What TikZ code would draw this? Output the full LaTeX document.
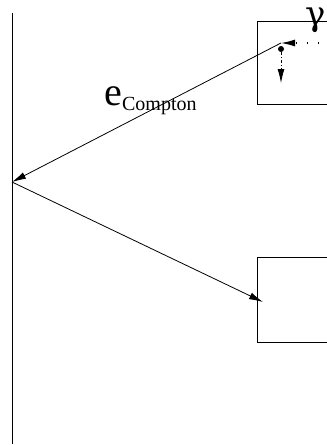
\documentclass[tikz,border=0pt]{standalone}
\usepackage{fontspec}
\setmainfont{Liberation Serif}
\newfontfamily\greekfont{DejaVu Serif}
\usetikzlibrary{arrows.meta,positioning}

\begin{document}
\begin{tikzpicture}[
	x=1pt, y=-1pt,
	line width=0.8pt,
	tip/.style={-{Latex[length=14pt,width=7pt]}},
	detbox/.style={draw, line width=0.8pt},
	vertex/.style={circle, fill, inner sep=0pt, minimum size=6pt}
]
\useasboundingbox (0,0) rectangle (327,445);

% detector plane
\coordinate (planetop) at (12,13);
\coordinate (planebot) at (12,444);
\draw (planetop) -- (planebot);

% scatterer and absorber (open to the right)
\draw[detbox] (330,21) -- (257,21) -- (257,104) -- (330,104);
\draw[detbox] (330,257) -- (257,257) -- (257,342) -- (330,342);

\node[vertex] (scatter) at (281,49) {};
\coordinate (entry) at (281,43);
\coordinate (gin) at (330,43);
\coordinate (hit) at (12,182);
\coordinate (absorb) at (263,302);
\coordinate (gdown) at (281,83);

\node[anchor=base east, inner sep=0pt] (gamma) at (326,25)
	{\greekfont\fontsize{34}{34}\selectfont γ};
\node[anchor=base west, inner sep=0pt] (elabel) at (104,105)
	{\fontsize{40}{40}\selectfont e\raisebox{-5pt}{\fontsize{20}{20}\selectfont Compton}};

\draw[tip, line width=1.2pt, dash pattern=on 1.5pt off 9.5pt] (gin) -- (entry);
\draw[tip, dash pattern=on 3pt off 2pt on 1pt off 2pt] (scatter) -- (gdown);
\draw[tip] (entry) -- (hit);
\draw[tip] (hit) -- (absorb);
\end{tikzpicture}
\end{document}
